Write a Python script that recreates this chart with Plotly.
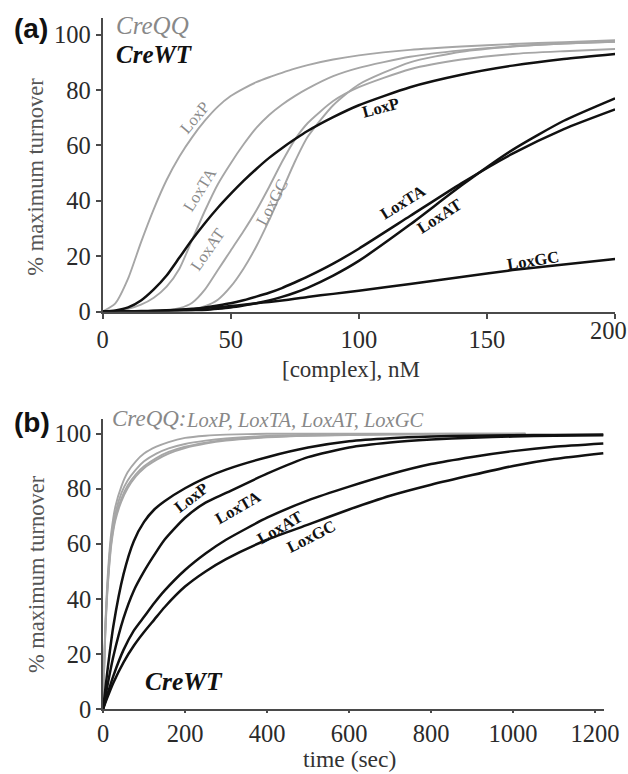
import plotly.graph_objects as go

# ---------------- Panel (a): turnover vs [complex] ----------------
conc = [0, 5, 10, 15, 20, 25, 30, 35, 40, 45, 50, 55, 60, 65, 70, 75, 80, 90, 100, 120, 140, 160, 180, 200]
conc_ticks = [0, 50, 100, 150, 200]
qq_loxp_a = [0, 3, 12, 25, 37, 47.5, 56, 63, 69, 74, 77.8, 80.5, 82.8, 84.6, 86.2, 87.7, 89, 91, 92.5, 94.5, 95.7, 96.6, 97.3, 98]
qq_loxta_a = [0, 0.2, 1, 2.5, 5, 9, 15.5, 26, 36.5, 46, 53.5, 60.3, 66.3, 71, 74.7, 77.8, 80.5, 85, 88, 92, 94.3, 95.8, 96.8, 97.4]
qq_loxat_a = [0, 0, 0, 0, 0.1, 0.4, 1.2, 3.2, 8, 15, 22, 29, 36.5, 45, 54, 62, 68, 76, 81, 87.5, 91, 93, 94, 94.8]
qq_loxgc_a = [0, 0, 0, 0, 0, 0.1, 0.3, 0.8, 2, 4.3, 9, 15.5, 23.5, 33, 43.5, 54, 63, 74.5, 82, 90, 93.8, 95.7, 96.8, 97.4]
wt_loxp_a = [0, 0.4, 1.5, 4, 8, 13, 19.5, 26, 32, 37.5, 42.5, 47.2, 51.5, 55.5, 59, 62.2, 65.2, 70.2, 74.5, 81, 85.5, 88.8, 91.2, 93]
wt_loxta_a = [0, 0, 0, 0, 0.2, 0.3, 0.6, 0.8, 1.5, 2.2, 3, 4.1, 5.4, 6.8, 8.5, 10.5, 12.6, 17.3, 22.7, 34.5, 46.3, 57, 65.9, 73]
wt_loxat_a = [0, 0, 0, 0, 0, 0.1, 0.2, 0.4, 0.6, 1, 1.5, 2.2, 3, 4, 5.3, 6.8, 8.6, 13, 18.3, 31.4, 45.5, 58.4, 68.9, 77]
wt_loxgc_a = [0, 0, 0.1, 0.2, 0.3, 0.5, 0.7, 1, 1.3, 1.6, 2, 2.5, 3, 3.5, 4, 4.6, 5.3, 6.4, 7.5, 10, 12.5, 15, 17, 19]

# ---------------- Panel (b): turnover vs time ----------------
t_qq = [0, 3, 6, 10, 15, 20, 30, 45, 60, 80, 100, 130, 160, 200, 250, 300, 400, 500, 700, 850, 1030]
qq_loxp_b = [0, 18, 32, 45, 56, 64, 73.5, 81, 86, 90, 92.8, 95.3, 97, 98.5, 99.3, 99.7, 100, 100, 100, 100, 100]
qq_loxta_b = [0, 17, 31, 43, 54, 62, 71, 78.5, 83, 87, 90, 92.8, 94.7, 96.3, 97.5, 98.3, 99.2, 99.6, 99.9, 100, 100]
qq_loxat_b = [0, 16.5, 30, 42, 52.5, 60.5, 69.5, 76.5, 81.2, 85.3, 88.2, 91.2, 93.4, 95.3, 96.8, 97.8, 98.9, 99.4, 99.8, 99.9, 100]
qq_loxgc_b = [0, 16, 29, 41, 51.5, 59.5, 68.5, 75.5, 80.2, 84.5, 87.5, 90.5, 92.8, 94.8, 96.4, 97.5, 98.7, 99.3, 99.7, 99.8, 99.9]

t_wt = [0, 10, 25, 50, 75, 100, 125, 150, 200, 250, 300, 400, 500, 600, 700, 800, 900, 1000, 1100, 1220]
time_ticks = [0, 200, 400, 600, 800, 1000, 1200]
wt_loxp_b = [0, 13, 30, 49, 61, 68, 72.5, 75.5, 80.2, 84, 87, 91.5, 95, 97.3, 98.4, 99, 99.3, 99.5, 99.6, 99.7]
wt_loxta_b = [0, 8, 19, 33, 43, 50, 56, 61.5, 69.5, 75, 78.5, 85.5, 91.5, 95, 96.8, 97.9, 98.6, 99, 99.3, 99.5]
wt_loxat_b = [0, 5, 12, 21.5, 28.5, 33.5, 38.5, 43, 50.5, 56.5, 61.5, 69.5, 75.8, 80.8, 85.3, 89, 91.6, 93.7, 95.3, 96.5]
wt_loxgc_b = [0, 4, 9.5, 17, 23, 28, 32.5, 37, 44.5, 50, 54.5, 61.5, 67, 72.5, 77.5, 81.5, 85, 88.3, 90.8, 92.9]

pct_ticks = [0, 20, 40, 60, 80, 100]

GRAY = "#a6a6a6"
BLACK = "#111111"
AX = "#4a4a4a"
TICKC = "#2a2a2a"
SERIF = "Liberation Serif, Times New Roman, serif"
SANS = "Liberation Sans, Arial, sans-serif"

# the captured page area is slightly larger than the nominal picture
W, H = 646, 787
RW, RH = 628, 774

fig = go.Figure()

def add(x, y, color, width, xa, ya):
    fig.add_trace(go.Scatter(x=x, y=y, mode="lines", xaxis=xa, yaxis=ya,
                             line=dict(color=color, width=width, shape="spline", smoothing=0.6),
                             showlegend=False, hoverinfo="skip"))

for s in [qq_loxp_a, qq_loxta_a, qq_loxat_a, qq_loxgc_a]:
    add(conc, s, GRAY, 1.9, "x", "y")
for s in [wt_loxp_a, wt_loxta_a, wt_loxat_a, wt_loxgc_a]:
    add(conc, s, BLACK, 2.5, "x", "y")
for s in [qq_loxp_b, qq_loxta_b, qq_loxat_b, qq_loxgc_b]:
    add(t_qq, s, GRAY, 1.9, "x2", "y2")
for s in [wt_loxp_b, wt_loxta_b, wt_loxat_b, wt_loxgc_b]:
    add(t_wt, s, BLACK, 2.5, "x2", "y2")

def px(v): return v / RW
def py(v): return 1 - v / RH

def axis_common(tl):
    return dict(showline=True, linecolor=AX, linewidth=2, ticks="outside", ticklen=tl,
                tickwidth=2, tickcolor=AX, showgrid=False, zeroline=False,
                tickfont=dict(family=SERIF, size=24.5, color=TICKC))

# last tick label of panel (a) sits slightly inside the edge, as in the original
conc_ticktext = [str(v) for v in conc_ticks[:-1]] + [""]

fig.update_layout(
    width=W, height=H, margin=dict(l=0, r=0, t=0, b=0), autosize=False,
    font=dict(family=SERIF),
    plot_bgcolor="white", paper_bgcolor="white",
    xaxis=dict(domain=[px(97), px(612)], range=[0, 200], tickvals=conc_ticks,
               ticktext=conc_ticktext, anchor="y", **axis_common(5)),
    yaxis=dict(domain=[py(312), py(18)], range=[0, 106], tickvals=pct_ticks,
               anchor="x", **axis_common(5)),
    xaxis2=dict(domain=[px(97.5), px(601)], range=[0, 1222],
                tickvals=time_ticks, anchor="y2", **axis_common(2)),
    yaxis2=dict(domain=[py(710), py(420)], range=[0, 105.2], tickvals=pct_ticks,
                anchor="x2", **axis_common(5)),
)

ann = []
def paper_text(text, x, y, size, color, xanchor="center", angle=0, family=SERIF):
    ann.append(dict(text=text, x=px(x), y=py(y), xref="paper", yref="paper", showarrow=False,
                    xanchor=xanchor, yanchor="middle", textangle=angle,
                    font=dict(family=family, size=size, color=color)))

def data_text(text, x, y, xr, yr, size, color, angle):
    ann.append(dict(text=text, x=x, y=y, xref=xr, yref=yr, showarrow=False,
                    xanchor="center", yanchor="middle", textangle=angle,
                    font=dict(family=SERIF, size=size, color=color)))

# last tick label of (a)
paper_text(str(conc_ticks[-1]), 605, 331, 24.5, TICKC)

# panel letters and headers
paper_text("<b>(a)</b>", 6, 29, 28, "#111", xanchor="left", family=SANS)
paper_text("<b>(b)</b>", 6, 423, 28, "#111", xanchor="left", family=SANS)
paper_text("<i>CreQQ</i>", 109, 26, 25, "#888888", xanchor="left")
paper_text("<b><i>CreWT</i></b>", 109, 55, 25, BLACK, xanchor="left")
paper_text("<i>CreQQ:</i>", 105, 419, 23, "#888888", xanchor="left")
paper_text("<i>LoxP, LoxTA, LoxAT, LoxGC</i>", 179, 421, 20.5, "#888888", xanchor="left")
paper_text("<b><i>CreWT</i></b>", 138, 682, 25.5, BLACK, xanchor="left")

# axis titles
paper_text("% maximum turnover", 30, 177, 22.5, "#555555", angle=-90)
paper_text("% maximum turnover", 30, 575, 22.5, "#555555", angle=-90)
paper_text("[complex], nM", 347, 370, 23, "#333333")
paper_text("time (sec)", 345, 760, 23.5, "#333333")

# curve labels panel (a)
data_text("LoxP", 36, 70, "x", "y", 16.5, "#8a8a8a", -50)
data_text("LoxTA", 38, 44, "x", "y", 16.5, "#8a8a8a", -58)
data_text("LoxAT", 41, 22.5, "x", "y", 16.5, "#8a8a8a", -55)
data_text("LoxGC", 66, 39.5, "x", "y", 16.5, "#8a8a8a", -62)
data_text("<b>LoxP</b>", 108.7, 73.6, "x", "y", 16.5, BLACK, -15)
data_text("<b>LoxTA</b>", 117, 39.5, "x", "y", 16.5, BLACK, -32)
data_text("<b>LoxAT</b>", 131.3, 34.3, "x", "y", 16.5, BLACK, -33)
data_text("<b>LoxGC</b>", 168, 18.3, "x", "y", 16.5, BLACK, -9)

# curve labels panel (b)
data_text("<b>LoxP</b>", 215, 77, "x2", "y2", 16.5, BLACK, -38)
data_text("<b>LoxTA</b>", 329, 73.3, "x2", "y2", 16.5, BLACK, -30)
data_text("<b>LoxAT</b>", 431, 66, "x2", "y2", 16.5, BLACK, -30)
data_text("<b>LoxGC</b>", 508, 62.7, "x2", "y2", 16.5, BLACK, -27)

fig.update_layout(annotations=ann)
fig.write_html("out.html", config={"displayModeBar": False},
               post_script="document.body.style.margin='0';document.body.style.overflow='hidden';")
